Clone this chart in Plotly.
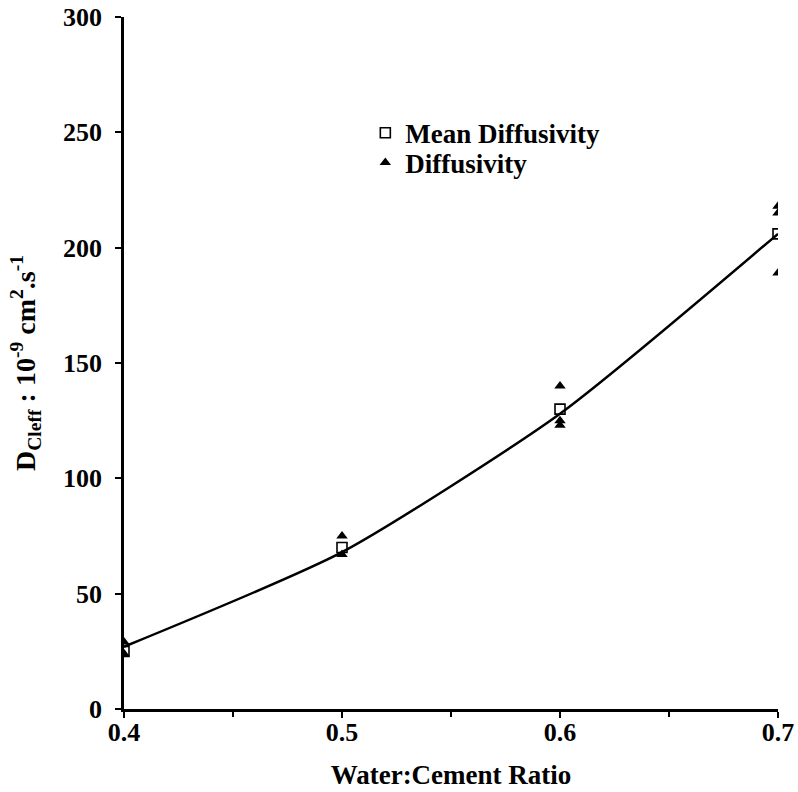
import plotly.graph_objects as go

ratio = [0.4, 0.5, 0.6, 0.7]
mean_diff = [25, 70, 130, 206]
diff_x = [0.4, 0.4, 0.5, 0.5, 0.6, 0.6, 0.6, 0.7, 0.7, 0.7]
diff_y = [29, 24, 75, 67, 140, 125, 123, 218, 215, 189]
fit_y = [27, 68, 128, 206]
x_ticks = [0.4, 0.5, 0.6, 0.7]
y_ticks = [0, 50, 100, 150, 200, 250, 300]

FONT = "Liberation Serif"

fig = go.Figure()
fig.add_trace(go.Scatter(x=ratio, y=fit_y, mode="lines", line=dict(color="black", width=2.5, shape="spline", smoothing=0.6),
                         showlegend=False, hoverinfo="skip"))
fig.add_trace(go.Scatter(x=ratio, y=mean_diff, mode="markers", name="<b>Mean Diffusivity</b>", legend="legend",
                         marker=dict(symbol="square-open", size=10, color="black", line=dict(width=1.6))))
fig.add_trace(go.Scatter(x=diff_x, y=diff_y, mode="markers", name="<b>Diffusivity</b>", legend="legend2",
                         marker=dict(symbol="triangle-up", size=10, color="black")))

axis_common = dict(showline=True, linecolor="black", linewidth=2.5, ticks="outside", tickcolor="black",
                   tickwidth=2, ticklen=6, showgrid=False, zeroline=False, automargin=False,
                   tickfont=dict(family=FONT, size=26, color="black"))

fig.update_xaxes(range=[0.4, 0.7], tickvals=x_ticks, ticktext=["<b>%.1f</b>" % v for v in x_ticks],
                 minor=dict(tickvals=[0.45, 0.55, 0.65], ticks="outside", ticklen=5, tickcolor="black", tickwidth=2),
                 title=dict(text="<b>Water:Cement Ratio</b>", font=dict(family=FONT, size=27, color="black"), standoff=20),
                 ticklabelstandoff=-8, **axis_common)
fig.update_yaxes(range=[0, 300], tickvals=y_ticks,
                 ticktext=["<b>%d</b>" % v for v in y_ticks],
                 title=dict(text="<b>D<sub>Cleff</sub> : 10<sup>-9</sup> cm<sup>2</sup>.s<sup>-1</sup></b>",
                            font=dict(family=FONT, size=28, color="black"), standoff=20),
                 ticklabelstandoff=8, **axis_common)

legend_common = dict(xanchor="left", yanchor="middle", bgcolor="rgba(0,0,0,0)",
                     font=dict(family=FONT, size=27, color="black"), itemwidth=30, tracegroupgap=0)
fig.update_layout(width=798, height=792, margin=dict(l=124, r=20, t=17, b=83),
                  paper_bgcolor="white", plot_bgcolor="white",
                  legend=dict(x=0.369, y=0.832, **legend_common),
                  legend2=dict(x=0.369, y=0.789, **legend_common),
                  showlegend=True)

fig.write_html("out.html")
